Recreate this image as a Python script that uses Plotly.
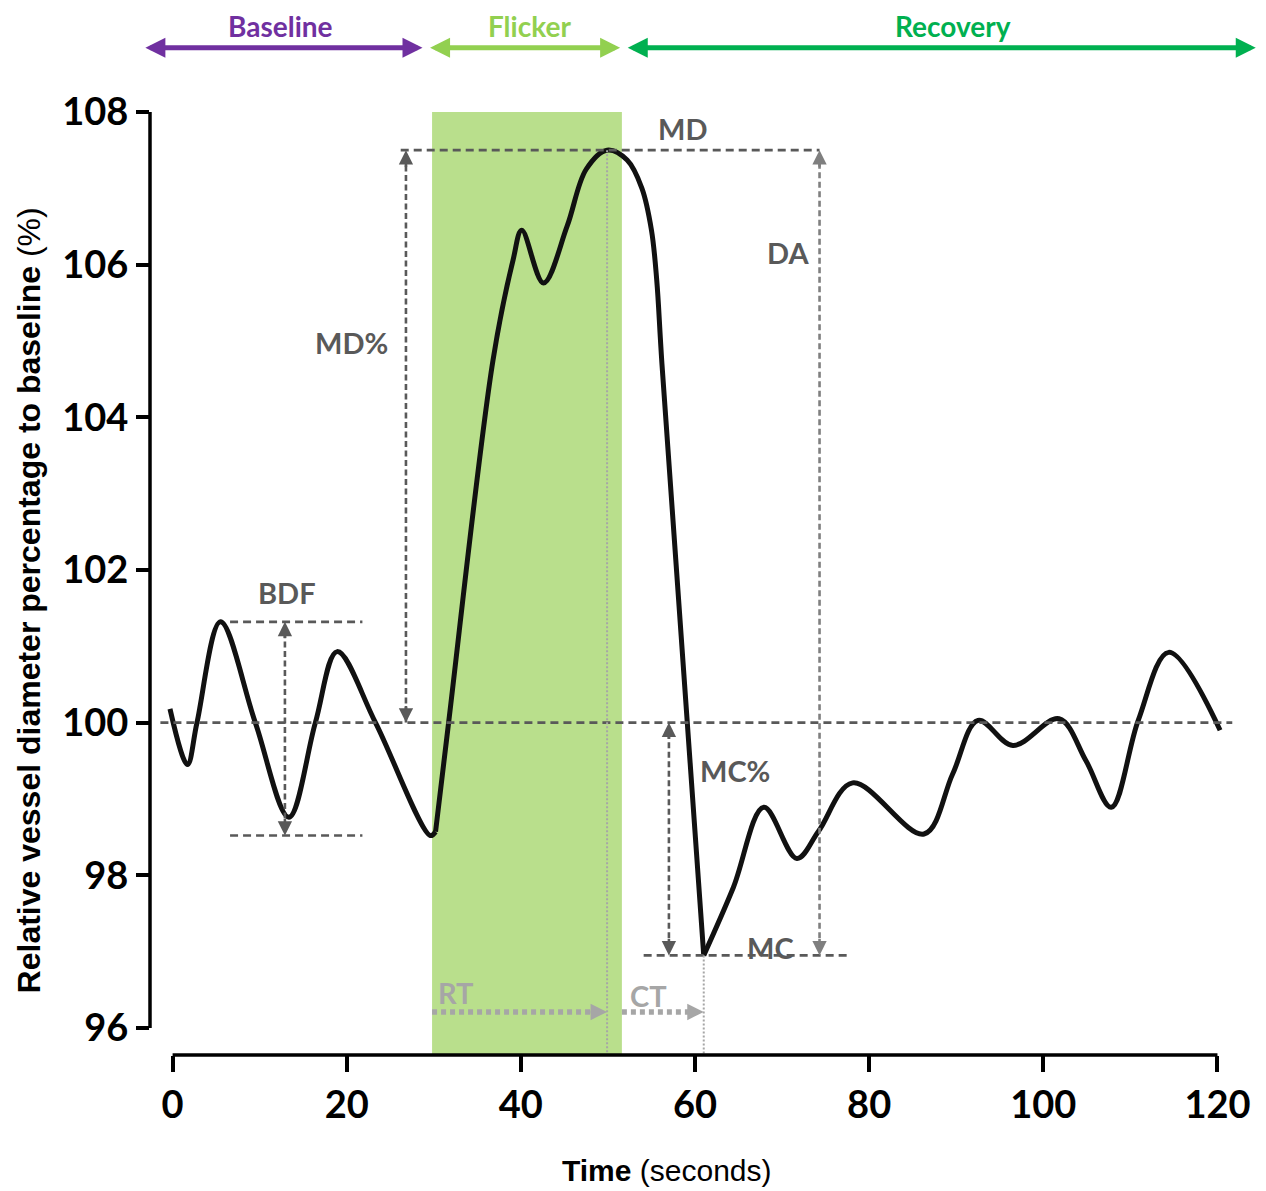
import plotly.graph_objects as go

# ---------------- data ----------------
t_baseline = [-0.3, 1.7, 2.8, 5.5, 9.5, 13.35, 16.4, 18.9, 23.3, 29.6, 30.2]
d_baseline = [100.18, 99.45, 100.0, 101.32, 100.0, 98.76, 100.0, 100.93, 100.0, 98.52, 98.57]

t_flicker = [30.2, 31.7, 36.8, 39.1, 40.1, 42.6, 45.3, 47.5, 49.9, 52.2, 53.9, 55.0, 55.6, 56.2, 61.0]
d_flicker = [98.57, 100.0, 104.75, 106.06, 106.45, 105.76, 106.5, 107.25, 107.5, 107.37, 107.0, 106.45, 105.8, 104.7, 96.95]

t_recovery = [61.0, 64.4, 67.9, 71.7, 74.2, 78.1, 86.3, 89.6, 92.5, 96.5, 101.8, 104.9, 107.8, 110.9, 114.4, 120.3]
d_recovery = [96.95, 97.84, 98.89, 98.22, 98.58, 99.21, 98.54, 99.33, 100.03, 99.70, 100.05, 99.5, 98.89, 100.03, 100.92, 99.9]

x_ticks = [0, 20, 40, 60, 80, 100, 120]
y_ticks = [96, 98, 100, 102, 104, 106, 108]

flicker_window = [29.8, 51.6]
baseline_level = 100

phase_names = ["Baseline", "Flicker", "Recovery"]
phase_from = [-3.3, 29.4, 52.1]
phase_to = [28.7, 51.4, 124.4]
phase_label_x = [12.4, 41.0, 89.6]
phase_colors = ["#7030a0", "#92d050", "#00b050"]

# ---------------- derived measures ----------------
md = max(d_flicker)
t_md = t_flicker[d_flicker.index(md)]
mc = min(d_recovery)
t_mc = t_recovery[d_recovery.index(mc)]
bdf_hi = max(d_baseline)
bdf_lo = min(d_baseline)

X_RANGE = [-2.595, 125.0]
Y_RANGE = [95.645, 108.0]

DARK = "#595959"
MID = "#7f7f7f"
LIGHT = "#a6a6a6"
FONT_B = "Lato"

fig = go.Figure()

for tx, dy in [(t_baseline, d_baseline), (t_flicker, d_flicker), (t_recovery, d_recovery)]:
    fig.add_trace(go.Scatter(x=tx, y=dy, mode="lines",
                             line=dict(color="#111111", width=5, shape="spline", smoothing=1.0),
                             showlegend=False, hoverinfo="skip"))

shapes = []
# flicker band
shapes.append(dict(type="rect", xref="x", yref="y", x0=flicker_window[0], x1=flicker_window[1],
                   y0=Y_RANGE[0], y1=y_ticks[-1], fillcolor="rgb(185,223,140)",
                   line=dict(width=0), layer="below"))

def hline(x0, x1, y, color=DARK, w=2.6, dash="8px,5px"):
    shapes.append(dict(type="line", xref="x", yref="y", x0=x0, x1=x1, y0=y, y1=y,
                       line=dict(color=color, width=w, dash=dash)))

def vline(x, y0, y1, color=DARK, w=2.6, dash="6px,3.5px"):
    shapes.append(dict(type="line", xref="x", yref="y", x0=x, x1=x, y0=y0, y1=y1,
                       line=dict(color=color, width=w, dash=dash)))

hline(-1.4, 121.7, baseline_level)
hline(26.2, 74.3, md)
hline(54.1, 77.8, mc)
hline(6.6, 21.8, bdf_hi)
hline(6.6, 21.8, bdf_lo)

vline(26.8, baseline_level, md - 0.1)
vline(74.3, mc + 0.1, md - 0.1, color=MID)
vline(57.0, mc + 0.1, baseline_level - 0.1)
vline(12.9, bdf_lo + 0.1, bdf_hi - 0.1)

# thin dotted time markers
vline(t_md, md, Y_RANGE[0], color=LIGHT, w=2, dash="2px,2px")
vline(t_mc, mc, Y_RANGE[0], color=LIGHT, w=2, dash="2px,2px")

# RT / CT thick dotted arrows
rt_y = 96.21
hline(flicker_window[0], t_md - 1.0, rt_y, color=LIGHT, w=5.5, dash="5px,4px")
hline(flicker_window[1], t_mc - 1.0, rt_y, color=LIGHT, w=5.5, dash="5px,4px")

# axis lines
shapes.append(dict(type="line", xref="x", yref="paper", x0=x_ticks[0], x1=x_ticks[-1], y0=0, y1=0,
                   line=dict(color="black", width=3.5)))
shapes.append(dict(type="line", xref="paper", yref="y", x0=0, x1=0, y0=y_ticks[0], y1=y_ticks[-1],
                   line=dict(color="black", width=3.5)))

annotations = []

def head(x, y, dx, dy, color, w=2.6, size=1.1):
    annotations.append(dict(x=x, y=y, xref="x", yref="y", ax=dx, ay=dy, axref="pixel", ayref="pixel",
                            text="", showarrow=True, arrowhead=2, arrowwidth=w, arrowsize=size,
                            arrowcolor=color, standoff=0))

head(26.8, md, 0, 18, DARK)
head(26.8, baseline_level, 0, -18, DARK)
head(74.3, md, 0, 18, MID)
head(74.3, mc, 0, -18, MID)
head(57.0, baseline_level, 0, 18, DARK)
head(57.0, mc, 0, -18, DARK)
head(12.9, bdf_hi, 0, 18, DARK)
head(12.9, bdf_lo, 0, -18, DARK)
head(t_md, rt_y, -18, 0, LIGHT, w=3, size=1.1)
head(t_mc, rt_y, -18, 0, LIGHT, w=3, size=1.1)

def label(txt, x, y, color=DARK, size=29):
    annotations.append(dict(x=x, y=y, xref="x", yref="y", text="<b>%s</b>" % txt, showarrow=False,
                            font=dict(family=FONT_B, size=size, color=color),
                            xanchor="center", yanchor="middle"))

label("MD", 58.6, 107.79)
label("DA", 70.7, 106.16)
label("MD%", 20.5, 104.98)
label("BDF", 13.1, 101.70)
label("MC%", 64.6, 99.37)
label("MC", 68.7, 97.06)
label("RT", 32.5, 96.47, color=LIGHT)
label("CT", 54.6, 96.43, color=LIGHT)

# phase arrows on top
for name, a, b, lx, col in zip(phase_names, phase_from, phase_to, phase_label_x, phase_colors):
    annotations.append(dict(x=b, y=1.0682, xref="x", yref="paper", ax=a, ay=0, axref="x", ayref="pixel",
                            text="", showarrow=True, arrowhead=2, startarrowhead=2, arrowside="end+start",
                            arrowwidth=5, arrowsize=0.8, startarrowsize=0.8, arrowcolor=col, standoff=0,
                            startstandoff=0))
    annotations.append(dict(x=lx, y=1.0915, xref="x", yref="paper", text="<b>%s</b>" % name,
                            showarrow=False, font=dict(family=FONT_B, size=28, color=col),
                            xanchor="center", yanchor="middle"))

# axis titles
annotations.append(dict(x=0.4652, y=-0.122, xref="paper", yref="paper",
                        text="<b>Time</b> (seconds)", showarrow=False,
                        font=dict(family="Liberation Sans", size=30, color="black"),
                        xanchor="center", yanchor="middle"))
annotations.append(dict(x=-0.1093, y=0.4816, xref="paper", yref="paper", textangle=-90,
                        text="<b>Relative vessel diameter percentage to baseline</b> (%)", showarrow=False,
                        font=dict(family="Liberation Sans", size=32, color="black"),
                        xanchor="center", yanchor="middle"))

fig.update_layout(
    width=1258, height=1183,
    margin=dict(l=142, r=4.6, t=104.3, b=136),
    plot_bgcolor="white", paper_bgcolor="white",
    shapes=shapes, annotations=annotations,
    xaxis=dict(range=X_RANGE, tickvals=x_ticks, ticktext=[str(v) for v in x_ticks],
               showgrid=False, zeroline=False, showline=False,
               ticks="outside", ticklen=16, tickwidth=3.5, tickcolor="black",
               tickfont=dict(family=FONT_B, size=38, color="black", weight="bold")),
    yaxis=dict(range=Y_RANGE, tickvals=y_ticks, ticktext=[str(v) for v in y_ticks],
               showgrid=False, zeroline=False, showline=False,
               ticks="outside", ticklen=13, tickwidth=3.5, tickcolor="black",
               tickfont=dict(family=FONT_B, size=38, color="black", weight="bold")),
)

fig.write_html("out.html")
